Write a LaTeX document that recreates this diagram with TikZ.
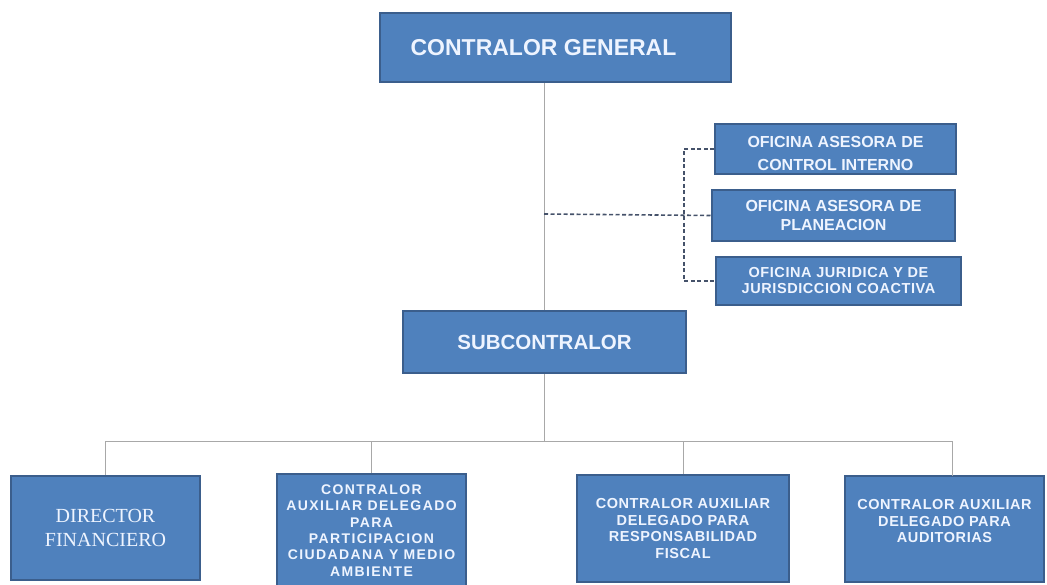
\documentclass[tikz,border=0pt]{standalone}
\usepackage{fontspec}
\setmainfont{Liberation Sans}
\newfontfamily\timesz{Liberation Serif}
\newfontfamily\widez[LetterSpace=10]{Liberation Sans}
\newfontfamily\semiwidez[LetterSpace=4]{Liberation Sans}
\definecolor{boxfill}{HTML}{4F81BD}
\definecolor{boxline}{HTML}{3B5E8C}
\definecolor{boxtext}{HTML}{EEF4FF}
\definecolor{solidline}{HTML}{A8A8A8}
\definecolor{dashline}{HTML}{45526A}
\tikzset{
  orgbox/.style={rectangle, fill=boxfill, draw=boxline, line width=1.6pt,
    text=boxtext, align=center, inner sep=2pt, font=\bfseries},
  tree/.style={draw=solidline, line width=1pt},
  staff/.style={draw=dashline, line width=1.6pt, dash pattern=on 4pt off 2.5pt},
}
\begin{document}
\begin{tikzpicture}[x=1pt,y=-1pt]
\useasboundingbox (0,0) rectangle (1047,585);
% main boxes
\node[orgbox, minimum width=351, minimum height=69, font=\bfseries\fontsize{23}{26}\selectfont] (cg) at (555.5,47.5) {CONTRALOR GENERAL\kern24pt};
\node[orgbox, minimum width=283, minimum height=62, font=\bfseries\fontsize{20.5}{24}\selectfont] (sub) at (544.5,342) {SUBCONTRALOR};
% staff boxes
\node[orgbox, minimum width=241, minimum height=50, font=\bfseries\fontsize{16}{23}\selectfont] (ci) at (835.5,149) {\mbox{}\\[-3.4pt]OFICINA ASESORA DE\\CONTROL INTERNO};
\node[orgbox, minimum width=243, minimum height=51, font=\bfseries\fontsize{16}{19}\selectfont] (pl) at (833.5,215.5) {OFICINA ASESORA DE\\PLANEACION};
\node[orgbox, minimum width=245, minimum height=48, font=\semiwidez\bfseries\fontsize{14.5}{16}\selectfont] (ju) at (838.5,281) {OFICINA JURIDICA Y DE\\JURISDICCION COACTIVA};
% bottom boxes
\node[orgbox, minimum width=189, minimum height=104, font=\timesz\fontsize{20}{24}\selectfont] (df) at (105.5,528) {DIRECTOR\\FINANCIERO};
\node[orgbox, minimum width=189, minimum height=113, font=\widez\bfseries\fontsize{14}{16.3}\selectfont] (pc) at (371.5,530.5) {CONTRALOR\\AUXILIAR DELEGADO\\PARA\\PARTICIPACION\\CIUDADANA Y MEDIO\\AMBIENTE};
\node[orgbox, minimum width=212, minimum height=107, font=\semiwidez\bfseries\fontsize{14.5}{16.7}\selectfont] (rf) at (683,528.5) {CONTRALOR AUXILIAR\\DELEGADO PARA\\RESPONSABILIDAD\\FISCAL};
\node[orgbox, minimum width=199, minimum height=106, font=\semiwidez\bfseries\fontsize{14.5}{16.7}\selectfont] (au) at (944.5,529) {CONTRALOR AUXILIAR\\DELEGADO PARA\\AUDITORIAS\\[-0.7pt]\mbox{}};
% connector helpers
\coordinate (bus) at (544,441);
\coordinate (join) at (544,214);
\coordinate (rail) at (684,214);
\coordinate (audrop) at (952,476);
% solid tree
\draw[tree] (cg.south -| sub.north) -- (sub.north);
\draw[tree] (sub.south) -- (sub.south |- bus);
\draw[tree] (df.north |- bus) -- (audrop |- bus);
\draw[tree] (df.north |- bus) -- (df.north);
\draw[tree] (pc.north |- bus) -- (pc.north);
\draw[tree] (rf.north |- bus) -- (rf.north);
\draw[tree] (audrop |- bus) -- (audrop);
% dashed staff links
\draw[staff] (join) -- (pl.west);
\draw[staff] (ci.west) -- (ci.west -| rail) -- (ju.west -| rail) -- (ju.west);
\end{tikzpicture}
\end{document}
